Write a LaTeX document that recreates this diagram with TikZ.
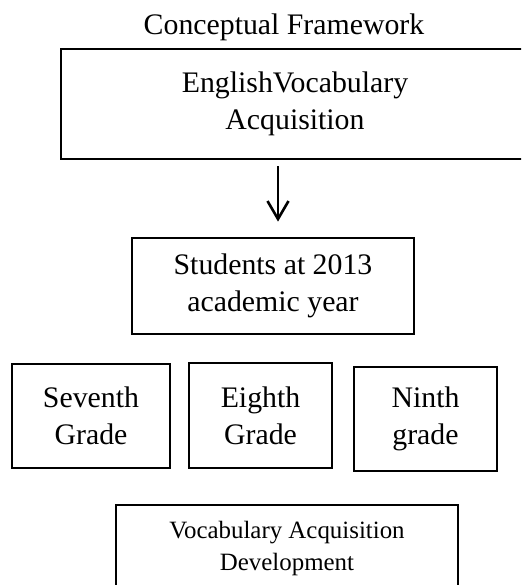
\documentclass[tikz,border=0pt]{standalone}
\usepackage{fontspec}
\setmainfont{Liberation Serif}
\usetikzlibrary{arrows.meta}

\begin{document}
\begin{tikzpicture}[
        x=0.5pt, y=-0.5pt,
        every node/.style={align=center, font=\fontsize{14.9}{18.35}\selectfont},
        box/.style={draw, line width=1.4pt, inner sep=0pt},
        small/.style={font=\fontsize{12.45}{16}\selectfont}
    ]
        % Khung của hình
        \clip (0,0) rectangle (521,585);

        % Tiêu đề và các hộp
        \node (title) at (284,27) {Conceptual Framework};
        \node[box, minimum width=234pt, minimum height=55pt] (eva) at (295,104) {EnglishVocabulary\\Acquisition};
        \node[box, minimum width=141pt, minimum height=48pt] (students) at (273,286) {Students at 2013\\academic year};
        \node[box, minimum width=79pt, minimum height=52pt] (seventh) at (91,416) {Seventh\\Grade};
        \node[box, minimum width=71.5pt, minimum height=52.5pt] (eighth) at (260.5,415.5) {Eighth\\Grade};
        \node[box, minimum width=71.5pt, minimum height=52pt] (ninth) at (425.5,419) {Ninth\\grade};
        \node[box, small, minimum width=171pt, minimum height=44pt] (vad) at (287,549) {Vocabulary Acquisition\\Development};

        % Mũi tên
        \coordinate (ax) at (278,0);
        \draw[-{Straight Barb[length=9pt,width=10.5pt]}, line width=1.3pt, shorten <=3pt, shorten >=7.5pt]
            (eva.south -| ax) -- (students.north -| ax);
    \end{tikzpicture}
\end{document}
